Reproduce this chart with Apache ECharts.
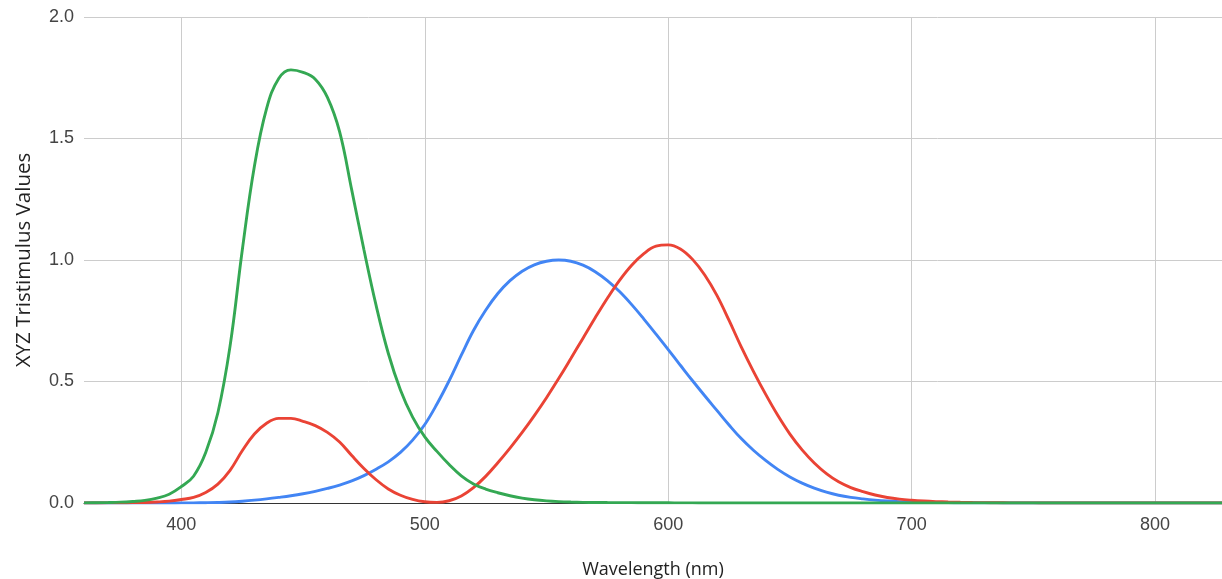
<!DOCTYPE html>
<html>
<head>
<meta charset="utf-8">
<script src="https://cdn.jsdelivr.net/npm/echarts@6/dist/echarts.min.js"></script>
<style>
  html, body { margin: 0; padding: 0; background: #fff; }
  #chart { width: 1222px; height: 579px; }
</style>
</head>
<body>
<div id="chart"></div>
<script>
// CIE 1931 2° colour matching functions, 5 nm steps
const wavelengths = [];
for (let w = 360; w <= 830; w += 5) wavelengths.push(w);

const xBar = [
  0.0001299, 0.0002321, 0.0004149, 0.0007416, 0.001368, 0.002236, 0.004243, 0.00765,
  0.01431, 0.02319, 0.04351, 0.07763, 0.13438, 0.21477, 0.2839, 0.3285,
  0.34828, 0.34806, 0.3362, 0.3187, 0.2908, 0.2511, 0.19536, 0.1421,
  0.09564, 0.05795, 0.03201, 0.0147, 0.0049, 0.0024, 0.0093, 0.0291,
  0.06327, 0.1096, 0.1655, 0.22575, 0.2904, 0.3597, 0.43345, 0.51205,
  0.5945, 0.6784, 0.7621, 0.8425, 0.9163, 0.9786, 1.0263, 1.0567,
  1.0622, 1.0456, 1.0026, 0.9384, 0.85445, 0.7514, 0.6424, 0.5419,
  0.4479, 0.3608, 0.2835, 0.2187, 0.1649, 0.1212, 0.0874, 0.0636,
  0.04677, 0.0329, 0.0227, 0.01584, 0.011359, 0.008111, 0.00579, 0.004109,
  0.002899, 0.002049, 0.00144, 0.001, 0.00069, 0.000476, 0.000332, 0.000235,
  0.000166, 0.000117, 0.000083, 0.000059, 0.000042, 0.0000294, 0.0000207, 0.0000146,
  0.0000103, 0.0000073, 0.0000051, 0.0000036, 0.0000026, 0.0000018, 0.0000013
];

const yBar = [
  0.0000039, 0.000007, 0.0000124, 0.000022, 0.000039, 0.000064, 0.00012, 0.000217,
  0.000396, 0.00064, 0.00121, 0.00218, 0.004, 0.0073, 0.0116, 0.01684,
  0.023, 0.0298, 0.038, 0.048, 0.06, 0.0739, 0.09098, 0.1126,
  0.13902, 0.1693, 0.20802, 0.2586, 0.323, 0.4073, 0.503, 0.6082,
  0.71, 0.7932, 0.862, 0.91485, 0.954, 0.9803, 0.99495, 1.0,
  0.995, 0.9786, 0.952, 0.9154, 0.87, 0.8163, 0.757, 0.6949,
  0.631, 0.5668, 0.503, 0.4412, 0.381, 0.321, 0.265, 0.217,
  0.175, 0.1382, 0.107, 0.0816, 0.061, 0.04458, 0.032, 0.0232,
  0.017, 0.01192, 0.00821, 0.005723, 0.004102, 0.002929, 0.002091, 0.001484,
  0.001047, 0.00074, 0.00052, 0.000361, 0.000249, 0.000172, 0.00012, 0.000085,
  0.00006, 0.000042, 0.00003, 0.000021, 0.000015, 0.0000106, 0.0000075, 0.0000053,
  0.0000037, 0.0000026, 0.0000019, 0.0000013, 0.0000009, 0.0000007, 0.0000005
];

const zBar = [
  0.0006061, 0.001086, 0.001946, 0.003486, 0.00645, 0.01055, 0.02005, 0.03621,
  0.06785, 0.1102, 0.2074, 0.3713, 0.6456, 1.03905, 1.3856, 1.62296,
  1.74706, 1.7826, 1.77211, 1.7441, 1.6692, 1.5281, 1.28764, 1.0419,
  0.81295, 0.6162, 0.46518, 0.3533, 0.272, 0.2123, 0.1582, 0.1117,
  0.07825, 0.05725, 0.04216, 0.02984, 0.0203, 0.0134, 0.00875, 0.00575,
  0.0039, 0.00275, 0.0021, 0.0018, 0.00165, 0.0014, 0.0011, 0.001,
  0.0008, 0.0006, 0.00034, 0.00024, 0.00019, 0.0001, 0.00005, 0.00003,
  0.00002, 0.00001, 0, 0, 0, 0, 0, 0,
  0, 0, 0, 0, 0, 0, 0, 0,
  0, 0, 0, 0, 0, 0, 0, 0,
  0, 0, 0, 0, 0, 0, 0, 0,
  0, 0, 0, 0, 0, 0, 0
];

const xTicks = [400, 500, 600, 700, 800];
const xTitle = 'Wavelength (nm)';
const yTitle = 'XYZ Tristimulus Values';

const pair = arr => wavelengths.map((w, i) => [w, arr[i]]);

const tickFont = { fontFamily: 'Liberation Sans, Arial, sans-serif', fontSize: 18, color: '#444' };

const chart = echarts.init(document.getElementById('chart'), null, { renderer: 'canvas' });

const lineSeries = (name, data, color) => ({
  name,
  type: 'line',
  data: pair(data),
  smooth: 0.4,
  showSymbol: false,
  lineStyle: { color, width: 2.9 },
  itemStyle: { color },
  clip: true
});

chart.setOption({
  animation: false,
  backgroundColor: '#fff',
  grid: { left: 84, right: 0, top: 17, bottom: 76, containLabel: false, outerBoundsMode: 'none' },
  xAxis: {
    type: 'value',
    min: 360,
    max: 827.5,
    name: xTitle,
    nameLocation: 'middle',
    nameGap: 58,
    nameTextStyle: { fontFamily: 'Open Sans, sans-serif', fontSize: 18, color: '#222' },
    axisLine: { show: true, onZero: false, lineStyle: { color: '#333', width: 1.2 } },
    axisTick: { show: false, customValues: xTicks },
    axisLabel: Object.assign({ margin: 13, customValues: xTicks }, tickFont),
    splitLine: { show: true, lineStyle: { color: '#cccccc', width: 1 } }
  },
  yAxis: {
    type: 'value',
    min: 0,
    max: 2,
    interval: 0.5,
    name: yTitle,
    nameLocation: 'middle',
    nameGap: 49,
    nameTextStyle: { fontFamily: 'Open Sans, sans-serif', fontSize: 20.5, color: '#222' },
    axisLine: { show: false },
    axisTick: { show: false },
    axisLabel: Object.assign({ margin: 10, formatter: v => v.toFixed(1) }, tickFont),
    splitLine: { show: true, lineStyle: { color: '#cccccc', width: 1 } }
  },
  series: [
    lineSeries('Y', yBar, '#4285F4'),
    lineSeries('X', xBar, '#EA4335'),
    lineSeries('Z', zBar, '#34A853')
  ]
});
</script>
</body>
</html>
